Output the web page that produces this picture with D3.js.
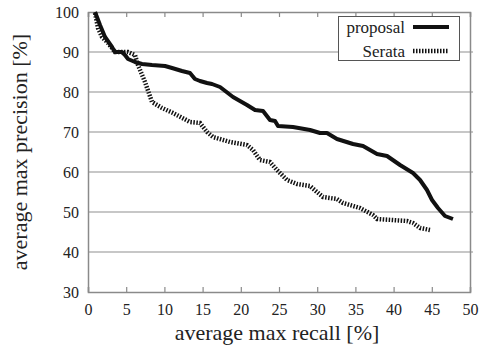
<!DOCTYPE html>
<html><head><meta charset="utf-8">
<script src="https://cdn.jsdelivr.net/npm/d3@7"></script>
<style>body{margin:0;background:#fff}svg{display:block}text{font-family:"Liberation Serif","Times New Roman",serif;fill:#222}</style>
</head><body><svg id="c" width="481" height="348"></svg>
<script>
const xTicks = [0,5,10,15,20,25,30,35,40,45,50];
const yTicks = [30,40,50,60,70,80,90,100];
const seriesNames = ["proposal","Serata"];
const proposalRecall = [0.92,1.57,2.23,3.14,3.53,4.45,4.84,5.24,6.15,7.07,8.38,10.08,11.0,12.3,13.35,14.0,14.66,15.58,16.23,17.28,18.98,20.81,21.86,22.91,23.82,24.48,24.87,26.83,29.06,30.37,31.28,32.59,34.69,36.0,37.83,39.14,40.84,42.54,43.46,44.37,45.03,45.81,46.73,47.77];
const proposalPrecision = [100,96.75,93.75,91.25,90,90,89.25,88.25,87.5,87,86.75,86.5,86,85.25,84.75,83.25,82.75,82.25,82,81.25,78.75,76.75,75.5,75.25,73,72.75,71.5,71.25,70.5,69.75,69.75,68.25,67,66.5,64.5,64,61.75,59.75,58,55.5,53,51,49,48.25];
const serataRecall = [0.92,1.31,1.83,2.62,3.53,5.24,6.15,6.54,7.46,8.38,9.69,11.13,13.35,14.66,15.58,16.36,18.59,20.81,21.6,22.51,23.82,24.74,26.05,27.36,29.06,29.97,30.76,32.59,33.38,35.6,37.3,37.83,41.75,42.54,43.46,44.76];
const serataPrecision = [99.75,96,93.75,92.25,90,90,89.25,86.75,82.5,77.5,76,74.75,72.5,72.25,70,68.75,67.5,66.75,65.5,63,62.5,60.5,58,57,56.5,55,53.75,53.25,52.25,51,49.25,48.25,47.75,47.25,46,45.5];

const FONT = "'Liberation Serif', 'Times New Roman', serif";
const svg = d3.select("#c");
const L=88,R=470,T=12,B=292;
const x = d3.scaleLinear().domain([0,50]).range([L,R]);
const y = d3.scaleLinear().domain([30,100]).range([B,T]);

// grid
svg.append("g").selectAll("line").data(yTicks.filter(d=>d>30&&d<100)).join("line")
  .attr("x1",L).attr("x2",R+3).attr("y1",d=>y(d)).attr("y2",d=>y(d))
  .attr("stroke","#b4b4b4").attr("stroke-width",1.5);

// axes
const xb = svg.append("g").attr("transform",`translate(0,${B})`)
  .call(d3.axisBottom(x).tickValues(xTicks).tickSize(-5).tickPadding(12).tickFormat(d3.format("d")));
const xt = svg.append("g").attr("transform",`translate(0,${T})`)
  .call(d3.axisTop(x).tickValues(xTicks).tickSize(-5).tickFormat(""));
const yl = svg.append("g").attr("transform",`translate(${L},0)`)
  .call(d3.axisLeft(y).tickValues(yTicks).tickSize(0).tickPadding(9).tickFormat(d3.format("d")));
const yr = svg.append("g").attr("transform",`translate(${R},0)`)
  .call(d3.axisRight(y).tickValues(yTicks).tickSize(0).tickFormat(""));
[xb,xt,yl,yr].forEach(g=>{
  g.attr("font-family",FONT).attr("font-size",16);
  g.selectAll(".domain").attr("stroke","#8a8a8a").attr("stroke-width",1.5);
  g.selectAll(".tick line").attr("stroke","#8a8a8a").attr("stroke-width",1.2);
  g.selectAll("text").attr("font-family",FONT).attr("font-size",16).attr("fill","#222");
});
xb.selectAll("text").attr("dy",null).attr("y",23);

// lines
const line = d3.line().x(d=>x(d[0])).y(d=>y(d[1]));
const pData = proposalRecall.map((r,i)=>[r,proposalPrecision[i]]);
const sData = serataRecall.map((r,i)=>[r,serataPrecision[i]]);
svg.append("path").datum(sData).attr("d",line).attr("fill","none")
  .attr("stroke","#111").attr("stroke-width",4.5).attr("stroke-dasharray","1.5,1.5");
svg.append("path").datum(pData).attr("d",line).attr("fill","none")
  .attr("stroke","#111").attr("stroke-width",4).attr("stroke-linejoin","round");

// legend
const lg = svg.append("g").attr("font-family",FONT);
lg.append("rect").attr("x",338.5).attr("y",16.5).attr("width",121).attr("height",44)
  .attr("fill","#fff").attr("stroke","#555").attr("stroke-width",1);
seriesNames.forEach((n,i)=>{
  const yy = 27 + i*24;
  lg.append("text").attr("x",405).attr("y",yy+6).attr("text-anchor","end")
    .attr("font-family",FONT).attr("font-size",17).text(n);
  lg.append("line").attr("x1",413).attr("x2",449).attr("y1",yy).attr("y2",yy)
    .attr("stroke","#111").attr("stroke-width",i===0?4:4.5)
    .attr("stroke-dasharray",i===0?null:"1.5,1.5");
});

// titles
svg.append("text").attr("x",(L+R)/2 - 2).attr("y",340).attr("text-anchor","middle")
  .attr("font-family",FONT).attr("font-size",22).text("average max recall [%]");
svg.append("text").attr("transform",`translate(27,${(T+B)/2}) rotate(-90)`).attr("text-anchor","middle")
  .attr("font-family",FONT).attr("font-size",22).text("average max precision [%]");
</script></body></html>
